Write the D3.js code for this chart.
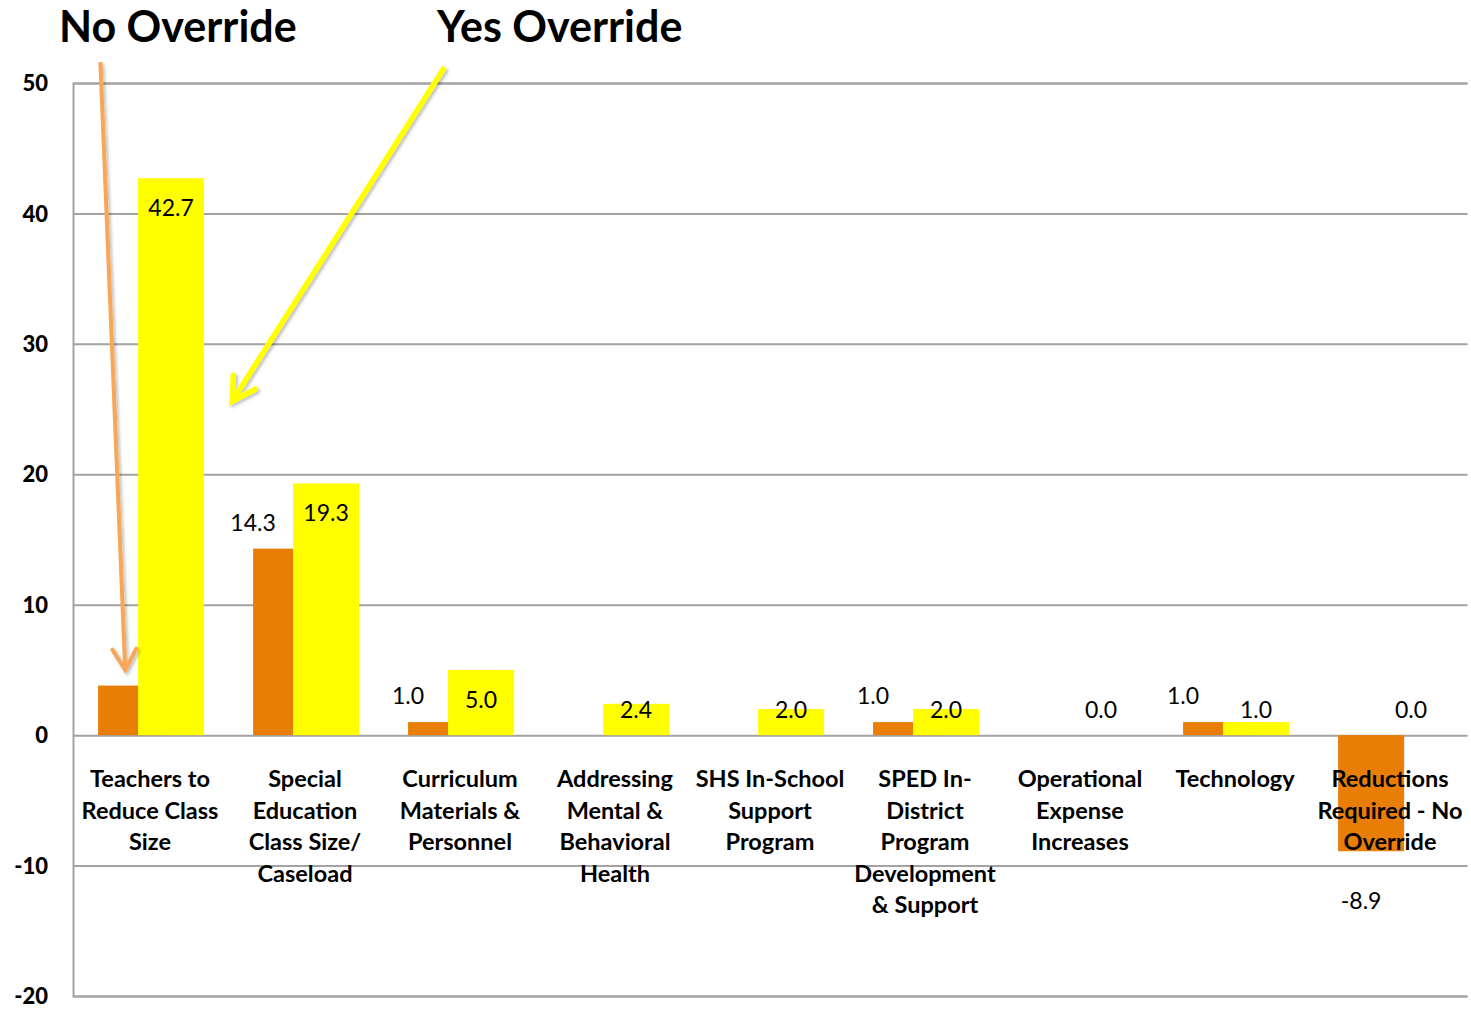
<!DOCTYPE html>
<html><head><meta charset="utf-8">
<script src="https://cdn.jsdelivr.net/npm/d3@7"></script>
<style>html,body{margin:0;padding:0;background:#fff;}svg{display:block;}</style>
</head><body>
<svg id="chart" width="1471" height="1011"></svg>
<script>
const categories = [
  ["Teachers to","Reduce Class","Size"],
  ["Special","Education","Class Size/","Caseload"],
  ["Curriculum","Materials &","Personnel"],
  ["Addressing","Mental &","Behavioral","Health"],
  ["SHS In-School","Support","Program"],
  ["SPED In-","District","Program","Development","& Support"],
  ["Operational","Expense","Increases"],
  ["Technology"],
  ["Reductions","Required - No","Override"]
];
const noOverride  = [3.8, 14.3, 1.0, 0, 0, 1.0, 0, 1.0, -8.9];
const yesOverride = [42.7, 19.3, 5.0, 2.4, 2.0, 2.0, 0.0, 1.0, 0.0];
const noLabels  = [null, "14.3", "1.0", null, null, "1.0", null, "1.0", "-8.9"];
const yesLabels = ["42.7", "19.3", "5.0", "2.4", "2.0", "2.0", "0.0", "1.0", "0.0"];
const yTicks = [-20, -10, 0, 10, 20, 30, 40, 50];
const titles = ["No Override", "Yes Override"];

const svg = d3.select("#chart");
const FONT = "Lato, 'Open Sans', sans-serif";
const ORANGE = "#E97E07", YELLOW = "#FFFF00", GRID = "#A3A3A3";

const keys = categories.map((c, i) => i);
const x = d3.scaleBand().domain(keys).range([72.5, 1467.5]).paddingInner(0).paddingOuter(0);
const y = d3.scaleLinear().domain([-20, 50]).range([996, 83]);
const bw = x.bandwidth();
const barW = bw * 0.426;
const offNo = bw * 0.165, offYes = bw * 0.423;

// drop shadow filter
const defs = svg.append("defs");
const f = defs.append("filter").attr("id", "shadow").attr("x", "-20%").attr("y", "-20%").attr("width", "140%").attr("height", "140%");
f.append("feDropShadow").attr("dx", 2).attr("dy", 2).attr("stdDeviation", 1.5).attr("flood-color", "#000").attr("flood-opacity", 0.25);

// axis + gridlines
const yAxis = d3.axisLeft(y).tickValues(yTicks).tickSize(-(1467.5 - 73)).tickFormat(d => String(d)).tickPadding(25);
const ga = svg.append("g").attr("transform", "translate(73,0)").call(yAxis);
ga.select(".domain").attr("stroke", GRID).attr("stroke-width", 2);
ga.selectAll(".tick line").attr("stroke", GRID).attr("stroke-width", 2);
ga.selectAll(".tick text").attr("font-family", FONT).attr("font-weight", 900).attr("font-size", 22).attr("fill", "#000").attr("dy", "0.35em");

// bars
svg.append("g").selectAll("rect").data(noOverride).join("rect")
  .attr("x", (d, i) => x(i) + offNo).attr("width", barW)
  .attr("y", d => y(Math.max(0, d))).attr("height", d => Math.abs(y(d) - y(0)))
  .attr("fill", ORANGE);
svg.append("g").selectAll("rect").data(yesOverride).join("rect")
  .attr("x", (d, i) => x(i) + offYes).attr("width", barW)
  .attr("y", d => y(Math.max(0, d))).attr("height", d => Math.abs(y(d) - y(0)))
  .attr("fill", YELLOW);

// value labels
svg.append("g").selectAll("text").data(yesOverride).join("text")
  .attr("x", (d, i) => x(i) + offYes + barW / 2)
  .attr("y", d => Math.min(y(d) + 30, y(0) - 25))
  .attr("dy", "0.35em").attr("text-anchor", "middle")
  .attr("font-family", FONT).attr("font-size", 23).attr("fill", "#000")
  .text((d, i) => yesLabels[i]);
{
  const g = svg.append("g");
  noOverride.forEach((d, i) => {
    if (noLabels[i] === null) return;
    g.append("text")
      .attr("x", d >= 0 ? x(i) + offNo : x(i) + offNo + barW / 2 - 10)
      .attr("y", d >= 0 ? y(d) - 26 : y(d) + 50)
      .attr("dy", "0.35em").attr("text-anchor", "middle")
      .attr("font-family", FONT).attr("font-size", 23).attr("fill", "#000")
      .text(noLabels[i]);
  });
}

// category labels
const cg = svg.append("g");
categories.forEach((lines, i) => {
  const t = cg.append("text").attr("x", x(i) + bw / 2).attr("y", 787)
    .attr("text-anchor", "middle").attr("font-family", FONT).attr("font-weight", "bold")
    .attr("font-size", 23.5).attr("fill", "#000");
  lines.forEach((ln, k) => t.append("tspan").attr("x", x(i) + bw / 2).attr("dy", k === 0 ? 0 : 31.6).text(ln));
});

// titles
svg.append("text").attr("x", 59).attr("y", 42).attr("font-family", FONT).attr("font-weight", "bold")
  .attr("font-size", 43).attr("fill", "#000").text(titles[0]);
svg.append("text").attr("x", 437).attr("y", 42).attr("font-family", FONT).attr("font-weight", "bold")
  .attr("font-size", 43).attr("fill", "#000").text(titles[1]);

// arrows
function arrow(x1, y1, x2, y2, color, w, arm) {
  const g = svg.append("g").attr("filter", "url(#shadow)");
  const a = Math.atan2(y2 - y1, x2 - x1);
  const ang = Math.PI / 6;
  const p1 = [x2 - arm * Math.cos(a - ang), y2 - arm * Math.sin(a - ang)];
  const p2 = [x2 - arm * Math.cos(a + ang), y2 - arm * Math.sin(a + ang)];
  g.append("line").attr("x1", x1).attr("y1", y1).attr("x2", x2).attr("y2", y2)
    .attr("stroke", color).attr("stroke-width", w).attr("stroke-linecap", "butt");
  g.append("path").attr("d", d3.line()([p1, [x2, y2], p2]))
    .attr("fill", "none").attr("stroke", color).attr("stroke-width", w)
    .attr("stroke-linejoin", "miter").attr("stroke-linecap", "round");
}
arrow(x(0) + bw * 0.18, y(51.6), x(0) + bw * 0.34, y(5.0), "#F9A656", 4, 24);
arrow(x(2) + bw * 0.40, y(51.2), x(1) + bw * 0.03, y(25.6), "#FFFF00", 5.5, 26);
</script>
</body></html>
